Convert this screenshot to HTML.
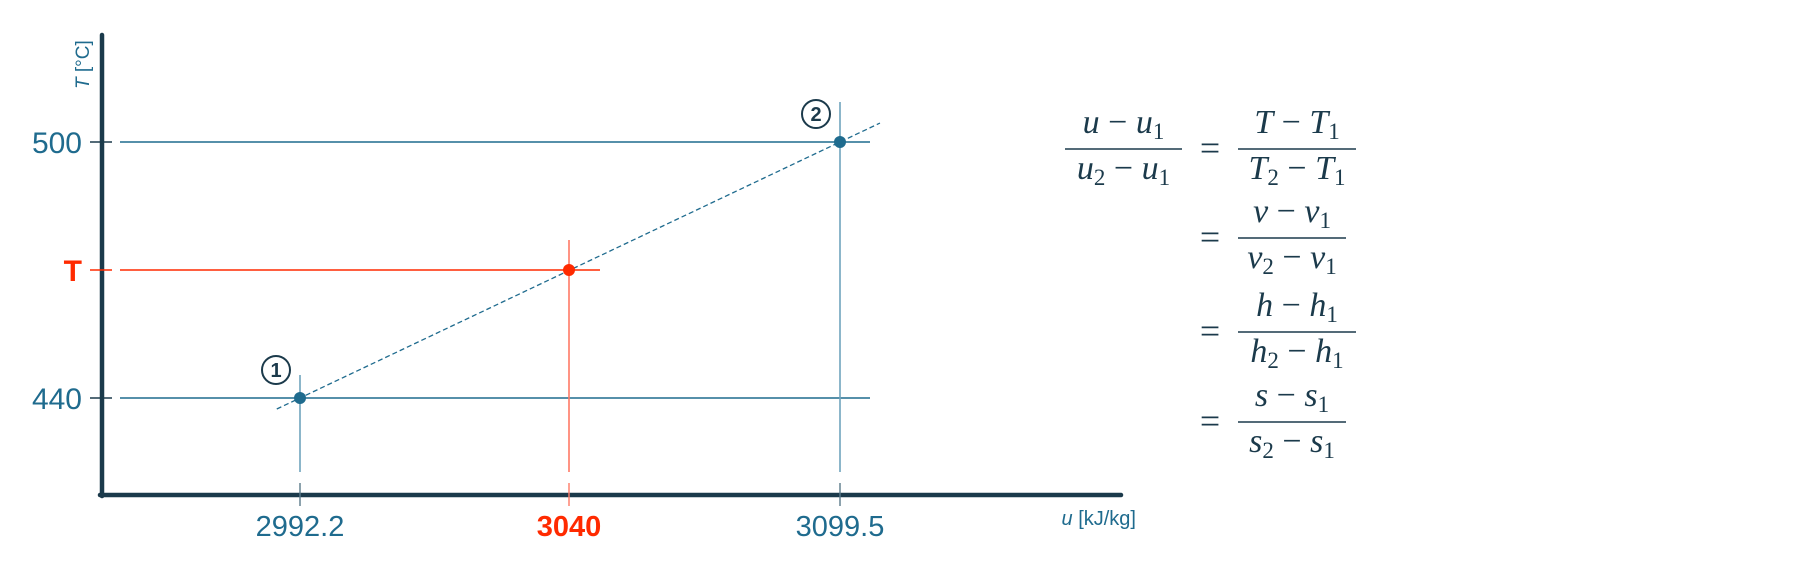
<!DOCTYPE html>
<html><head><meta charset="utf-8"><style>
html,body{margin:0;padding:0;background:#fff;}
svg{display:block;}
</style></head><body>
<svg id="chart" width="1803" height="562" viewBox="0 0 1803 562" xmlns="http://www.w3.org/2000/svg" font-family="Liberation Sans, sans-serif">
<g id="marks"></g>
<g id="eq" font-family="Liberation Serif, serif" fill="#1b3a4b"></g>
</svg>
<script>
const uValues = [2992.2, 3040, 3099.5];
const uLabels = ["2992.2", "3040", "3099.5"];
const tValues = [440, 470, 500];
const tLabels = ["440", "T", "500"];
const pointLabels = ["1", "", "2"];

const NS = "http://www.w3.org/2000/svg";
const blue = "#1f6b8e", dark = "#1b3a4b", red = "#ff2a00";
const xPos = [300, 569, 840];
function xScale(i){ return xPos[0] + (xPos[2]-xPos[0]) * i / (uValues.length-1) + (i===1 ? (xPos[1]-(xPos[0]+xPos[2])/2) : 0); }
function yScale(t){ return 398 + (t-440) * (142-398) / (500-440); }
const g = document.getElementById('marks');
function el(tag, attrs, parent){ const e = document.createElementNS(NS, tag); for (const k in attrs) e.setAttribute(k, attrs[k]); (parent||g).appendChild(e); return e; }

uValues.forEach((u,i)=>{
  const x = xScale(i), y = yScale(tValues[i]);
  const isR = i===1;
  const h = el('line',{x1:120,y1:y,x2:isR?600:870,y2:y,stroke:isR?red:blue,'stroke-width':1.4});
  
  
  const top = i===0 ? 375 : (i===1 ? 240 : 102);
  const v = el('line',{x1:x,y1:top,x2:x,y2:472,stroke:isR?'#ff7a66':'#6fa3bc','stroke-width':1.6});
  
  
});
{
  const x0 = xScale(0), y0 = yScale(tValues[0]), x2 = xScale(2), y2 = yScale(tValues[2]);
  const dx = x2-x0, dy = y2-y0;
  const a = -0.043, b = 1.074;
  const d = el('line',{x1:x0+dx*a,y1:y0+dy*a,x2:x0+dx*b,y2:y0+dy*b,stroke:blue,'stroke-width':1.3,'stroke-dasharray':'5,3'});
  
  
}
const ya = el('line',{x1:102,y1:35,x2:102,y2:496,stroke:dark,'stroke-width':4.5,'stroke-linecap':'round'});


const xa = el('line',{x1:100,y1:495,x2:1121,y2:495,stroke:dark,'stroke-width':4.5,'stroke-linecap':'round'});


uValues.forEach((u,i)=>{
  const x = xScale(i), isR = i===1;
  const t = el('line',{x1:x,y1:483,x2:x,y2:506,stroke:isR?'#ff7a66':'#5a7a8a','stroke-width':1.4});
  
  
  const tx = el('text',{x:x,y:536,'text-anchor':'middle','font-size':29,fill:isR?red:blue,'font-weight':isR?'bold':'normal'});
  tx.textContent = uLabels[i];
  
  
});
tValues.forEach((tv,i)=>{
  const y = yScale(tv), isR = i===1;
  const t = el('line',{x1:90,y1:y,x2:112,y2:y,stroke:isR?red:dark,'stroke-width':1.4});
  
  
  const tx = el('text',{x:82,y:y+11,'text-anchor':'end','font-size':30,fill:isR?red:blue,'font-weight':isR?'bold':'normal'});
  tx.textContent = tLabels[i];
  
  
});
uValues.forEach((u,i)=>{
  const x = xScale(i), y = yScale(tValues[i]);
  const c = el('circle',{cx:x,cy:y,r:6,fill:i===1?red:blue});
  
  
  if (pointLabels[i]) {
    const lx = x-24, ly = y-28;
    const cc = el('circle',{cx:lx,cy:ly,r:14,fill:'none',stroke:dark,'stroke-width':2});
    
    
    const tt = el('text',{x:lx,y:ly+7,'text-anchor':'middle','font-size':20,'font-weight':'bold',fill:dark});
    tt.textContent = pointLabels[i];
    
    
  }
});
const yt = el('text',{x:0,y:0,transform:'translate(89,89) rotate(-90)','font-size':19,fill:blue});
yt.innerHTML = '<tspan font-style="italic">T</tspan> [°C]';


const xt = el('text',{x:1136,y:525,'text-anchor':'end','font-size':20,fill:blue});
xt.innerHTML = '<tspan font-style="italic">u</tspan> [kJ/kg]';



const eq = document.getElementById('eq');
function frac(x1,x2,y,num,den,name){
  const l = el('line',{x1:x1,y1:y,x2:x2,y2:y,stroke:dark,'stroke-width':1.5},eq);
  
  
  const n = el('text',{x:(x1+x2)/2,y:y-16,'text-anchor':'middle','font-size':34},eq);
  n.innerHTML = num;
  
  
  const d = el('text',{x:(x1+x2)/2,y:y+30,'text-anchor':'middle','font-size':34},eq);
  d.innerHTML = den;
  
  
}
function sym(v,s){ return '<tspan font-style="italic">'+v+'</tspan>'+(s?'<tspan font-size="23" dy="6">'+s+'</tspan><tspan dy="-6"> </tspan>':''); }
const M = ' − ';
frac(1065,1182,149, sym('u')+M+sym('u','1'), sym('u','2')+M+sym('u','1'), 'u-fraction');
const rows = [[149,'T'],[238,'v'],[332,'h'],[422,'s']];
rows.forEach(([y,v])=>{
  const e = el('text',{x:1210,y:y+11,'text-anchor':'middle','font-size':36},eq);
  e.textContent = '=';
  
  
  frac(1238, v==='v'||v==='s'?1346:1356, y, sym(v)+M+sym(v,'1'), sym(v,'2')+M+sym(v,'1'), v+'-fraction');
});
</script>
</body></html>
